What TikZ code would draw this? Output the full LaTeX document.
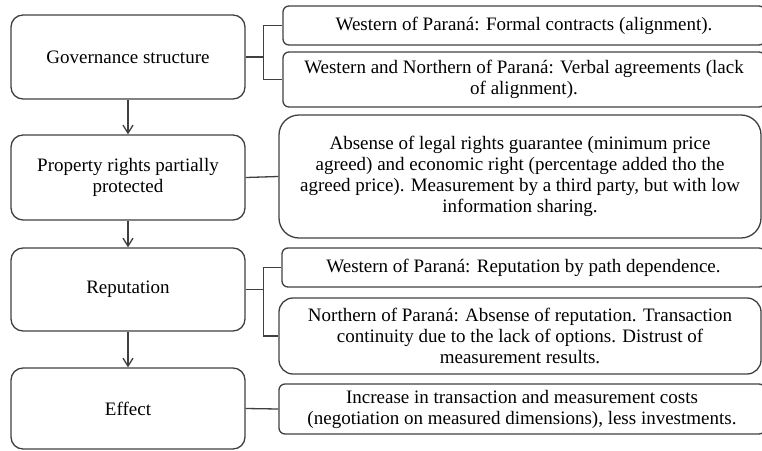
\documentclass[tikz,border=0pt]{standalone}
\usepackage{fontspec}
\setmainfont{Liberation Serif}
\usetikzlibrary{arrows.meta}

\begin{document}
\begin{tikzpicture}[x=1pt,y=-1pt,
  leftbox/.style={draw=black!75, line width=1.3pt, rounded corners=12pt, minimum width=234pt, align=center, font=\fontsize{19}{21}\selectfont},
  rightbox/.style={draw=black!75, line width=1.3pt, rounded corners=6pt, align=center, inner sep=0pt, font=\fontsize{19}{21}\selectfont},
  link/.style={draw=black!75, line width=1.3pt},
  flow/.style={link, -{Straight Barb[length=8pt,width=10pt]}}]
\useasboundingbox (0,0) rectangle (762,450);
% left column
\node (gov) at (128,57) [leftbox, minimum height=84pt] {Governance structure};
\node (prop) at (128,177.5) [leftbox, minimum height=85pt] {Property rights partially\\protected};
\node (rep) at (128,289.5) [leftbox, minimum height=83pt] {Reputation};
\node (eff) at (128,408.5) [leftbox, minimum height=81pt] {Effect};
% right column
\node (west) at (524,25.5) [rightbox, minimum width=482pt, minimum height=39pt] {Western of Paraná: Formal contracts (alignment).};
\node (westnorth) at (524,79.5) [rightbox, minimum width=482pt, minimum height=55pt] {Western and Northern of Paraná: Verbal agreements (lack\\of alignment).};
\node (rights) at (520,176.5) [rightbox, rounded corners=20pt, minimum width=482pt, minimum height=123pt] {Absense of legal rights guarantee (minimum price\\agreed) and economic right (percentage added tho the\\agreed price). Measurement by a third party, but with low\\information sharing.};
\node (pathdep) at (523.5,267.5) [rightbox, minimum width=483pt, minimum height=39pt] {Western of Paraná: Reputation by path dependence.};
\node (noreput) at (520,336) [rightbox, rounded corners=14pt, minimum width=482pt, minimum height=76pt] {Northern of Paraná: Absense of reputation. Transaction\\continuity due to the lack of options. Distrust of\\measurement results.};
\node (costs) at (522,409) [rightbox, minimum width=486pt, minimum height=50pt] {Increase in transaction and measurement costs\\(negotiation on measured dimensions), less investments.};
% arrows
\draw[flow] (gov) -- (prop);
\draw[flow] (prop) -- (rep);
\draw[flow] (rep) -- (eff);
% links
\draw[link] (gov.east) -- ++(18,0) |- (west.west);
\draw[link] (gov.east) -- ++(18,0) |- (westnorth.west);
\draw[link] (prop.east) -- (rights.west);
\draw[link] (rep.east) -- ++(18,0) |- (pathdep.west);
\draw[link] (rep.east) -- ++(18,0) |- (noreput.west);
\draw[link] (eff.east) -- (costs.west);
\end{tikzpicture}
\end{document}
